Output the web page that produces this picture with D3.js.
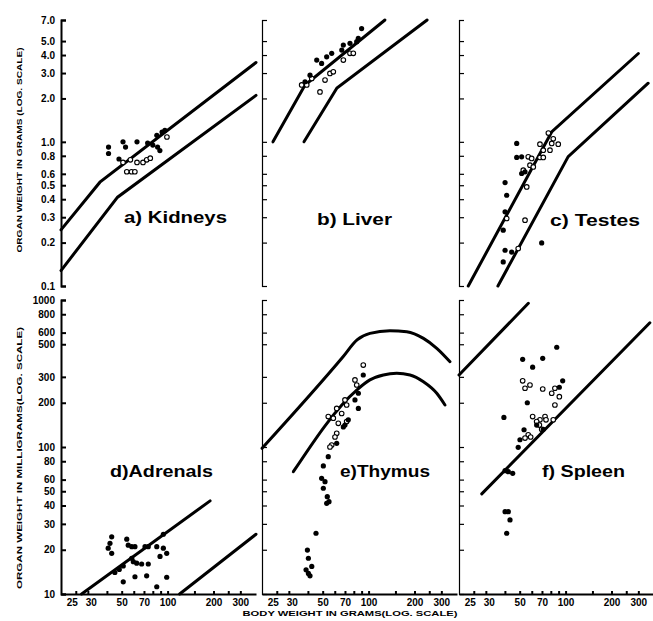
<!DOCTYPE html>
<html>
<head>
<meta charset="utf-8">
<script src="https://cdn.jsdelivr.net/npm/d3@7"></script>
<style>
  body { margin: 0; background: #fff; }
  svg { display: block; font-family: 'Liberation Sans', Arial, sans-serif; font-weight: bold; }
</style>
</head>
<body>
<svg id="chart" width="653" height="621"></svg>
<script>
// axis ticks
const xTicks = [25, 30, 40, 50, 60, 70, 80, 90, 100, 150, 200, 250, 300];
const xLabels = [25, 30, 50, 70, 100, 200, 300];
const gramTicks = [0.1, 0.2, 0.3, 0.4, 0.5, 0.6, 0.8, 1, 2, 3, 4, 5, 7];
const gramLabels = ['0.1', '0.2', '0.3', '0.4', '0.5', '0.6', '0.8', '1.0', '2.0', '3.0', '4.0', '5.0', '7.0'];
const mgTicks = [10, 20, 30, 40, 50, 60, 80, 100, 200, 300, 500, 600, 800, 1000];

// [body weight g, organ weight]
const kidneyUpper = [[20, 0.245], [36, 0.525], [380, 3.55]];
const kidneyLower = [[20, 0.128], [47, 0.413], [380, 2.1]];
const kidneyFilled = [[41, 0.92], [41, 0.83], [51, 1.0], [53, 0.92], [63, 1.0], [48, 0.76], [74, 0.98],
  [80, 0.95], [86, 0.92], [89, 0.87], [85, 1.11], [92, 1.17], [96, 1.2]];
const kidneyOpen = [[57, 0.75], [63, 0.72], [69, 0.72], [73, 0.75], [54, 0.62], [58, 0.62], [61, 0.62],
  [77, 0.77], [51, 0.72], [99, 1.08]];

const liverUpper = [[23.6, 1.0], [38.3, 2.48], [128, 7.0]];
const liverLower = [[37.7, 1.0], [62, 2.36], [242, 7.0]];
const liverFilled = [[38.3, 2.61], [41.3, 2.9], [45.7, 3.69], [49.2, 3.5], [53.1, 3.89], [57.3, 4.11],
  [66.7, 4.33], [68.3, 4.69], [75.5, 4.82], [83.6, 4.95], [85.6, 5.22], [90, 6.1]];
const liverOpen = [[39.3, 2.48], [51.8, 2.68], [55.8, 2.98], [58.7, 3.06], [68.3, 3.69], [75.5, 4.11],
  [79.4, 4.11], [48, 2.22], [42.4, 2.75], [36.4, 2.48]];

const testesUpper = [[23, 0.1], [81, 1.17], [300, 4.1]];
const testesLower = [[36, 0.1], [104, 0.79], [348, 2.55]];
const testesFilled = [[47.8, 0.975], [47.8, 0.779], [51.5, 0.787], [51.5, 0.603], [54.2, 0.619],
  [40.1, 0.522], [41.1, 0.426], [40.1, 0.327], [39, 0.244], [40.1, 0.177], [44.3, 0.172], [39, 0.147], [69.7, 0.199]];
const testesOpen = [[77.1, 1.15], [83, 1.05], [67.9, 0.964], [81.1, 0.975], [89.5, 0.964], [79, 0.875],
  [71.4, 0.875], [56.9, 0.787], [59.9, 0.767], [67.9, 0.779], [71.4, 0.779], [58.4, 0.689], [61.4, 0.67],
  [52.8, 0.636], [55.6, 0.487], [54.2, 0.286], [48.9, 0.182], [41.1, 0.294]];

const adrenalUpper = [[27.3, 10], [190, 43]];
const adrenalLower = [[120, 10], [380, 25.5]];
const adrenalFilled = [[43, 24.5], [41.9, 22.1], [40.8, 20.5], [43, 18.9], [54, 23.6], [55.2, 21.5],
  [58.2, 21], [61.1, 21], [71.1, 21], [74.7, 21], [84.9, 21], [93.8, 20.5], [98.7, 18.9], [89.2, 18],
  [58.2, 17.5], [59.6, 16.6], [62.7, 16.2], [67.6, 16], [74.7, 16], [45.1, 14], [48.2, 14.7], [51.2, 15.5],
  [51.2, 12.1], [61.1, 13.1], [72.9, 13.3], [84.9, 11.2], [98.7, 13], [93.8, 25.5]];
const adrenalOpen = [];

const thymusUpper = [[20, 98], [68, 411], [84, 535], [102, 593], [138, 618], [178, 608], [229, 548],
  [280, 469], [342, 380]];
const thymusLower = [[32.1, 67.9], [83.6, 244], [102, 286], [125, 309], [153, 317], [187, 309],
  [229, 278], [280, 232], [317, 193]];
const thymusFilled = [[92.3, 309], [85.7, 232], [85.7, 183], [81.4, 209], [73.6, 153], [70, 141],
  [68.3, 137], [61.8, 106], [54.4, 85.9], [50.5, 74.3], [49.2, 61.2], [51.8, 58.1], [50.5, 52.4],
  [53.6, 45.9], [53.1, 41.4], [55, 42.5], [45.2, 25.9], [39.7, 19.9], [40.3, 17.5], [42.4, 15.4],
  [38.9, 14.6], [40.3, 13.8], [41.3, 13.3]];
const thymusOpen = [[92.3, 361], [81.4, 286], [83.6, 264], [70, 209], [71.8, 193], [66.6, 169],
  [61.8, 183], [54.4, 161], [58.7, 157], [63.3, 145], [61.8, 124], [60.2, 117], [57.3, 103],
  [55.8, 100], [71.8, 149]];

const spleenUpper = [[20, 309], [57, 950]];
const spleenLower = [[28.2, 48], [357, 700]];
const spleenFilled = [[87.5, 477], [52.3, 395], [70.8, 401], [60.8, 349], [95.7, 282], [91, 255],
  [56.1, 200], [39.4, 159], [53.4, 131], [50.2, 112], [48.9, 99.5], [40.1, 69], [42.1, 67.9], [45, 66.2],
  [40.1, 36.3], [42.1, 36.3], [43.2, 31.9], [41.1, 25.9], [71.4, 132], [64.6, 141]];
const spleenOpen = [[52.3, 282], [58.4, 264], [54.2, 251], [70.8, 248], [85.1, 251], [81.1, 232],
  [91, 220], [85.1, 193], [60.8, 161], [67.9, 153], [64.6, 149], [73.3, 161], [74.4, 153], [83, 153],
  [56.9, 121], [59, 117], [54.2, 115], [69.7, 132], [67.3, 141]];

const PANEL_LEFTS = [61, 262, 459];
const PANEL_WIDTH = 195;
const X_DOMAIN = [20, 380];

const panels = [
  { label: 'a) Kidneys', row: 0, col: 0, lines: [kidneyUpper, kidneyLower], filled: kidneyFilled, open: kidneyOpen, lx: 124, ly: 223, lw: 103 },
  { label: 'b) Liver', row: 0, col: 1, lines: [liverUpper, liverLower], filled: liverFilled, open: liverOpen, lx: 317, ly: 225, lw: 75 },
  { label: 'c) Testes', row: 0, col: 2, lines: [testesUpper, testesLower], filled: testesFilled, open: testesOpen, lx: 550, ly: 226, lw: 90 },
  { label: 'd)Adrenals', row: 1, col: 0, lines: [adrenalUpper, adrenalLower], filled: adrenalFilled, open: adrenalOpen, lx: 110, ly: 477, lw: 103 },
  { label: 'e)Thymus', row: 1, col: 1, lines: [thymusUpper, thymusLower], filled: thymusFilled, open: thymusOpen, lx: 340, ly: 477, lw: 90, smooth: true },
  { label: 'f) Spleen', row: 1, col: 2, lines: [spleenUpper, spleenLower], filled: spleenFilled, open: spleenOpen, lx: 542, ly: 477, lw: 83 },
];

const svg = d3.select('#chart');

const yTop = d3.scaleLog().domain([0.1, 7]).range([286, 20]);
const yBottom = d3.scaleLog().domain([10, 1000]).range([594, 300]);

panels.forEach((p) => {
  const left = PANEL_LEFTS[p.col];
  const x = d3.scaleLog().domain(X_DOMAIN).range([left, left + PANEL_WIDTH]);
  const y = p.row === 0 ? yTop : yBottom;
  const g = svg.append('g');

  // y axis
  const yAxis = d3.axisLeft(y)
    .tickValues(p.row === 0 ? gramTicks : mgTicks)
    .tickSizeInner(-5)
    .tickSizeOuter(-5)
    .tickPadding(6)
    .tickFormat((d, i) => {
      if (p.col !== 0) return '';
      return p.row === 0 ? gramLabels[i] : String(d);
    });
  const ya = g.append('g')
    .attr('transform', `translate(${left},0)`)
    .call(yAxis);
  ya.attr('font-family', null).attr('font-size', 10);
  ya.selectAll('path, line')
    .attr('stroke', '#000')
    .attr('stroke-width', p.col === 0 ? 2 : 1.2);

  // x axis only on the bottom row
  if (p.row === 1) {
    const xAxis = d3.axisBottom(x)
      .tickValues(xTicks)
      .tickSizeInner(-3)
      .tickSizeOuter(0)
      .tickPadding(5)
      .tickFormat((d) => (xLabels.includes(d) ? d : ''));
    const xa = g.append('g')
      .attr('transform', `translate(0,${y.range()[0]})`)
      .call(xAxis);
    xa.attr('font-family', null).attr('font-size', 10);
    xa.selectAll('path, line')
      .attr('stroke', '#000')
      .attr('stroke-width', 2);
    // hand lettering spreads the two crowded labels apart
    xa.selectAll('text')
      .attr('dx', (d) => (d === 25 ? -4 : d === 30 ? 3 : 0));
  }

  const line = d3.line()
    .x((d) => x(d[0]))
    .y((d) => y(d[1]))
    .curve(p.smooth ? d3.curveMonotoneX : d3.curveLinear);

  g.selectAll('path.curve')
    .data(p.lines)
    .enter()
      .append('path')
      .classed('curve', true)
      .attr('d', line)
      .attr('fill', 'none')
      .attr('stroke', '#000')
      .attr('stroke-width', 3)
      .attr('stroke-linecap', 'round');

  g.selectAll('circle.open')
    .data(p.open)
    .enter()
      .append('circle')
      .classed('open', true)
      .attr('cx', (d) => x(d[0]))
      .attr('cy', (d) => y(d[1]))
      .attr('r', 2.3)
      .attr('fill', '#fff')
      .attr('stroke', '#000')
      .attr('stroke-width', 1.1);

  g.selectAll('circle.filled')
    .data(p.filled)
    .enter()
      .append('circle')
      .classed('filled', true)
      .attr('cx', (d) => x(d[0]))
      .attr('cy', (d) => y(d[1]))
      .attr('r', 2.6)
      .attr('fill', '#000');

  g.append('text')
    .attr('x', p.lx)
    .attr('y', p.ly)
    .attr('font-size', 17)
    .attr('textLength', p.lw)
    .attr('lengthAdjust', 'spacingAndGlyphs')
    .text(p.label);
});

// axis titles
svg.append('text')
  .attr('transform', 'translate(22,150) rotate(-90)')
  .attr('text-anchor', 'middle')
  .attr('font-size', 8)
  .attr('textLength', 205)
  .attr('lengthAdjust', 'spacingAndGlyphs')
  .text('ORGAN WEIGHT IN GRAMS (LOG. SCALE)');

svg.append('text')
  .attr('transform', 'translate(22,458) rotate(-90)')
  .attr('text-anchor', 'middle')
  .attr('font-size', 8)
  .attr('textLength', 262)
  .attr('lengthAdjust', 'spacingAndGlyphs')
  .text('ORGAN WEIGHT IN MILLIGRAMS(LOG. SCALE)');

svg.append('text')
  .attr('x', 350)
  .attr('y', 616)
  .attr('text-anchor', 'middle')
  .attr('font-size', 8)
  .attr('textLength', 215)
  .attr('lengthAdjust', 'spacingAndGlyphs')
  .text('BODY WEIGHT IN GRAMS(LOG. SCALE)');
</script>
</body>
</html>
